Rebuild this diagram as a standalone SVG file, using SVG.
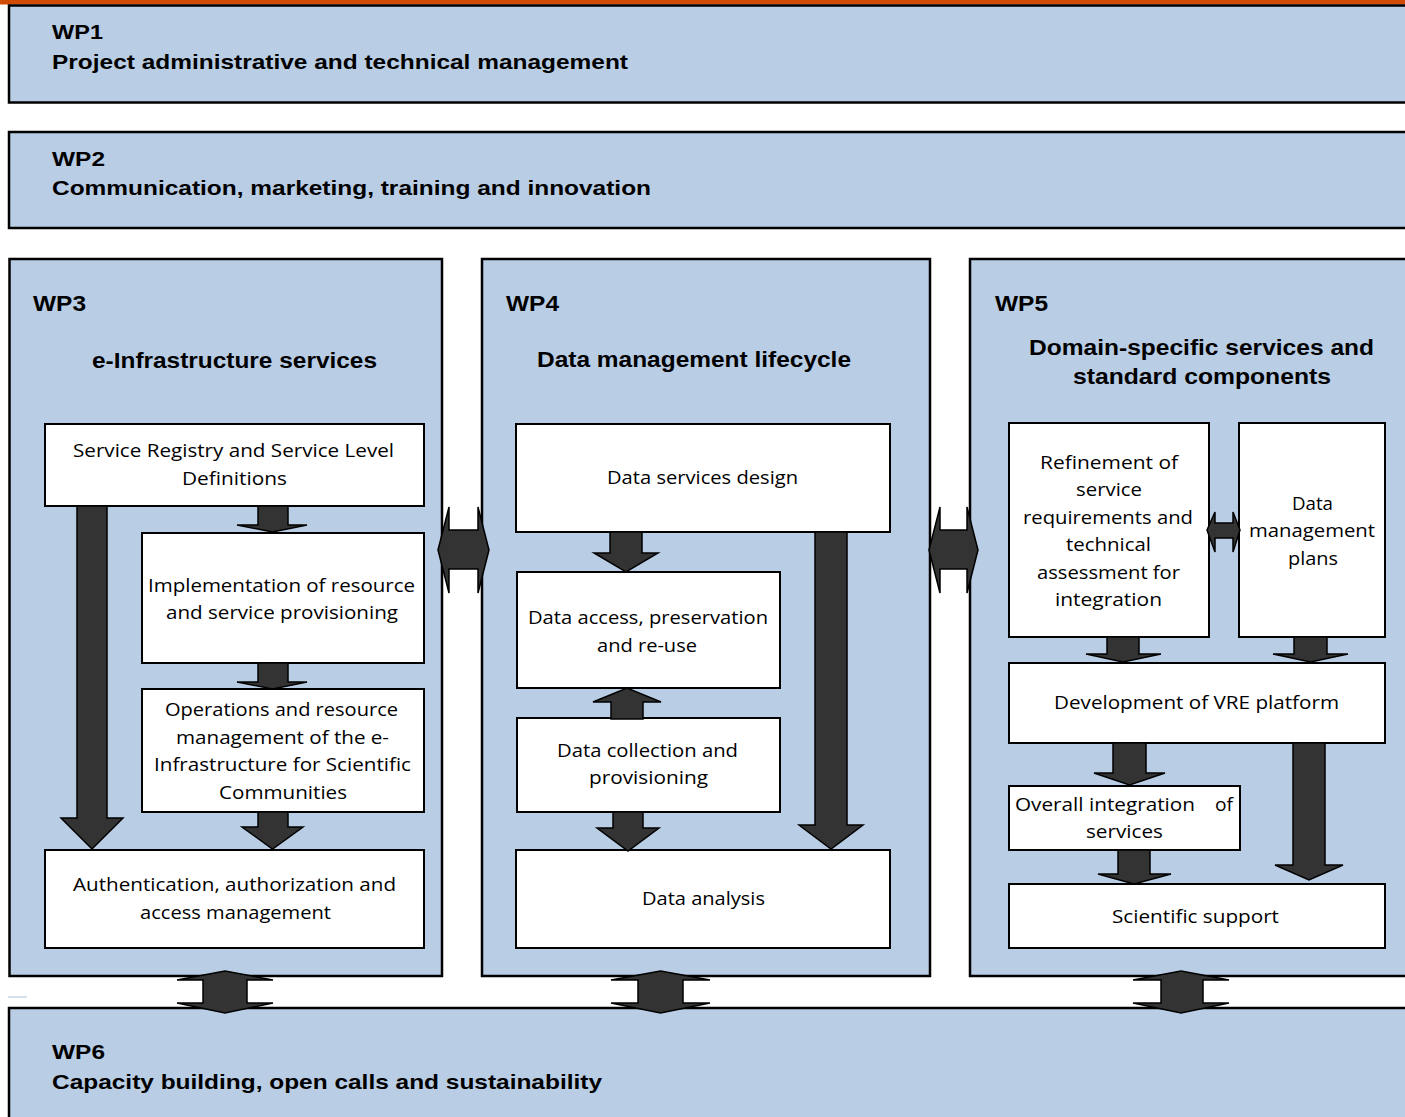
<svg xmlns="http://www.w3.org/2000/svg" width="1405" height="1117" viewBox="0 0 1405 1117">
<style>
.wp{fill:#b9cde5;stroke:#000;stroke-width:2.5}
.bx{fill:#fff;stroke:#000;stroke-width:2}
.ar{fill:#333;stroke:#000;stroke-width:1.5;stroke-linejoin:miter}
.h{font-family:"Liberation Sans",Arial,sans-serif;font-weight:bold;font-size:20.5px;fill:#000}
.h2{font-family:"Liberation Sans",Arial,sans-serif;font-weight:bold;font-size:21.5px;fill:#000}
.b{font-family:"Open Sans","Noto Sans",sans-serif;font-size:17.5px;text-anchor:middle;fill:#000}
.bs{font-family:"Open Sans","Noto Sans",sans-serif;font-size:17.5px;fill:#000}
</style>
<rect x="0" y="0" width="1405" height="1117" fill="#fff"/>
<rect x="0" y="0" width="1405" height="4.5" fill="#d14b05"/>

<g id="wp1">
<rect class="wp" x="9" y="5.5" width="1410" height="97"/>
<text class="h" x="52" y="39" textLength="51" lengthAdjust="spacingAndGlyphs">WP1</text>
<text class="h" x="52" y="69" textLength="576" lengthAdjust="spacingAndGlyphs">Project administrative and technical management</text>
</g>
<g id="wp2">
<rect class="wp" x="9" y="132" width="1410" height="96"/>
<text class="h" x="52" y="165.5" textLength="53" lengthAdjust="spacingAndGlyphs">WP2</text>
<text class="h" x="52" y="195" textLength="599" lengthAdjust="spacingAndGlyphs">Communication, marketing, training and innovation</text>
</g>
<g id="wp3">
<rect class="wp" x="9.5" y="259" width="432.5" height="717"/>
<text class="h2" x="33" y="311" textLength="53" lengthAdjust="spacingAndGlyphs">WP3</text>
<text class="h2" x="92" y="368" textLength="285" lengthAdjust="spacingAndGlyphs">e-Infrastructure services</text>
</g>
<g id="wp4">
<rect class="wp" x="482" y="259" width="448" height="717"/>
<text class="h2" x="506" y="311" textLength="53" lengthAdjust="spacingAndGlyphs">WP4</text>
<text class="h2" x="537" y="367" textLength="314" lengthAdjust="spacingAndGlyphs">Data management lifecycle</text>
</g>
<g id="wp5">
<rect class="wp" x="970" y="259" width="450" height="717"/>
<text class="h2" x="995" y="311" textLength="53" lengthAdjust="spacingAndGlyphs">WP5</text>
<text class="h2" x="1029" y="355" textLength="345" lengthAdjust="spacingAndGlyphs">Domain-specific services and</text>
<text class="h2" x="1073" y="384" textLength="258" lengthAdjust="spacingAndGlyphs">standard components</text>
</g>
<g id="wp6">
<rect class="wp" x="9" y="1008" width="1410" height="120"/>
<text class="h" x="52" y="1059" textLength="53" lengthAdjust="spacingAndGlyphs">WP6</text>
<text class="h" x="52" y="1089" textLength="550" lengthAdjust="spacingAndGlyphs">Capacity building, open calls and sustainability</text>
</g>
<line x1="8" y1="997" x2="27" y2="997" stroke="#c9d5e6" stroke-width="1.5"/>

<g id="service-registry">
<rect class="bx" x="45" y="424" width="379" height="82"/>
<text class="b" x="233.5" y="457" textLength="321" lengthAdjust="spacingAndGlyphs">Service Registry and Service Level</text>
<text class="b" x="234.5" y="484.5" textLength="105" lengthAdjust="spacingAndGlyphs">Definitions</text>
</g>
<g id="implementation">
<rect class="bx" x="142" y="533" width="282" height="130"/>
<text class="b" x="281.5" y="591.5" textLength="267" lengthAdjust="spacingAndGlyphs">Implementation of resource</text>
<text class="b" x="282" y="619" textLength="232" lengthAdjust="spacingAndGlyphs">and service provisioning</text>
</g>
<g id="operations">
<rect class="bx" x="142" y="689" width="282" height="123"/>
<text class="b" x="281.5" y="716" textLength="233" lengthAdjust="spacingAndGlyphs">Operations and resource</text>
<text class="b" x="282.5" y="743.5" textLength="213" lengthAdjust="spacingAndGlyphs">management of the e-</text>
<text class="b" x="282.5" y="771" textLength="257" lengthAdjust="spacingAndGlyphs">Infrastructure for Scientific</text>
<text class="b" x="283" y="798.5" textLength="128" lengthAdjust="spacingAndGlyphs">Communities</text>
</g>
<g id="authentication">
<rect class="bx" x="45" y="850" width="379" height="98"/>
<text class="b" x="234.5" y="891" textLength="323" lengthAdjust="spacingAndGlyphs">Authentication, authorization and</text>
<text class="b" x="235.5" y="919" textLength="191" lengthAdjust="spacingAndGlyphs">access management</text>
</g>
<g id="data-services-design">
<rect class="bx" x="516" y="424" width="374" height="108"/>
<text class="b" x="702.5" y="484" textLength="191" lengthAdjust="spacingAndGlyphs">Data services design</text>
</g>
<g id="data-access">
<rect class="bx" x="517" y="572" width="263" height="116"/>
<text class="b" x="648" y="624" textLength="240" lengthAdjust="spacingAndGlyphs">Data access, preservation</text>
<text class="b" x="647" y="651.5" textLength="100" lengthAdjust="spacingAndGlyphs">and re-use</text>
</g>
<g id="data-collection">
<rect class="bx" x="517" y="718" width="263" height="94"/>
<text class="b" x="647.5" y="756.5" textLength="181" lengthAdjust="spacingAndGlyphs">Data collection and</text>
<text class="b" x="648.5" y="784" textLength="119" lengthAdjust="spacingAndGlyphs">provisioning</text>
</g>
<g id="data-analysis">
<rect class="bx" x="516" y="850" width="374" height="98"/>
<text class="b" x="703.5" y="905" textLength="123" lengthAdjust="spacingAndGlyphs">Data analysis</text>
</g>
<g id="refinement">
<rect class="bx" x="1009" y="423" width="200" height="214"/>
<text class="b" x="1109" y="469" textLength="138" lengthAdjust="spacingAndGlyphs">Refinement of</text>
<text class="b" x="1109" y="496" textLength="66" lengthAdjust="spacingAndGlyphs">service</text>
<text class="b" x="1108" y="524" textLength="170" lengthAdjust="spacingAndGlyphs">requirements and</text>
<text class="b" x="1108.5" y="551" textLength="85" lengthAdjust="spacingAndGlyphs">technical</text>
<text class="b" x="1108.5" y="578.5" textLength="143" lengthAdjust="spacingAndGlyphs">assessment for</text>
<text class="b" x="1108.5" y="606" textLength="107" lengthAdjust="spacingAndGlyphs">integration</text>
</g>
<g id="data-management-plans">
<rect class="bx" x="1239" y="423" width="146" height="214"/>
<text class="b" x="1312.5" y="510" textLength="41" lengthAdjust="spacingAndGlyphs">Data</text>
<text class="b" x="1312" y="537" textLength="126" lengthAdjust="spacingAndGlyphs">management</text>
<text class="b" x="1313" y="564.5" textLength="50" lengthAdjust="spacingAndGlyphs">plans</text>
</g>
<g id="vre-platform">
<rect class="bx" x="1009" y="663" width="376" height="80"/>
<text class="b" x="1196.5" y="709" textLength="285" lengthAdjust="spacingAndGlyphs">Development of VRE platform</text>
</g>
<g id="overall-integration">
<rect class="bx" x="1009" y="786" width="231" height="64"/>
<text class="bs" y="811"><tspan x="1015" textLength="180" lengthAdjust="spacingAndGlyphs">Overall integration</tspan><tspan x="1215" textLength="18" lengthAdjust="spacingAndGlyphs">of</tspan></text>
<text class="b" x="1124.5" y="838" textLength="77" lengthAdjust="spacingAndGlyphs">services</text>
</g>
<g id="scientific-support">
<rect class="bx" x="1009" y="884" width="376" height="64"/>
<text class="b" x="1195.5" y="923" textLength="167" lengthAdjust="spacingAndGlyphs">Scientific support</text>
</g>

<g id="connectors">
<polygon class="ar" points="77,506 107,506 107,818 123,818 92,849 61,818 77,818"/>
<polygon class="ar" points="258,506 288,506 288,525 307,525 272.5,532 237,525 258,525"/>
<polygon class="ar" points="258,663 288,663 288,682 307,682 272.5,689 237,682 258,682"/>
<polygon class="ar" points="258,812 288,812 288,827 303,827 272.5,849 242,827 258,827"/>
<polygon class="ar" points="610,532 642,532 642,553 658,553 626,572 594,553 610,553"/>
<polygon class="ar" points="611,719 643,719 643,702 661,702 627,688 593,702 611,702"/>
<polygon class="ar" points="613,812 643,812 643,828 659,828 628,851 597,828 613,828"/>
<polygon class="ar" points="815,532 847,532 847,825 863,825 831,849 799,825 815,825"/>
<polygon class="ar" points="1107,637 1139,637 1139,654 1161,654 1123,662 1086,654 1107,654"/>
<polygon class="ar" points="1294,637 1327,637 1327,654 1348,654 1310.5,662 1273,654 1294,654"/>
<polygon class="ar" points="1113,743 1146,743 1146,773 1165,773 1129.5,785 1094,773 1113,773"/>
<polygon class="ar" points="1293,743 1325,743 1325,865 1343,865 1309,880 1275,865 1293,865"/>
<polygon class="ar" points="1118,850 1150,850 1150,874 1171,874 1134,884 1098,874 1118,874"/>
<polygon class="ar" points="1207,530 1215,512 1215,523 1233,523 1233,512 1240,530 1233,552 1233,538 1215,538 1215,552"/>
<polygon class="ar" points="438,550 449,507 449,530 478,530 478,507 489,550 478,593 478,569 449,569 449,593"/>
<polygon class="ar" points="929,550 940,507 940,530 967,530 967,507 978,550 967,593 967,569 940,569 940,593"/>
<polygon class="ar" points="225,971 273,980 247,980 247,1003 273,1003 225,1013 177,1003 203,1003 203,980 177,980"/>
<polygon class="ar" points="660.5,971 710,980 683,980 683,1003 710,1003 660.5,1013 611,1003 638,1003 638,980 611,980"/>
<polygon class="ar" points="1181,971 1229,980 1203,980 1203,1003 1229,1003 1181,1013 1133,1003 1161,1003 1161,980 1133,980"/>
</g>
</svg>
